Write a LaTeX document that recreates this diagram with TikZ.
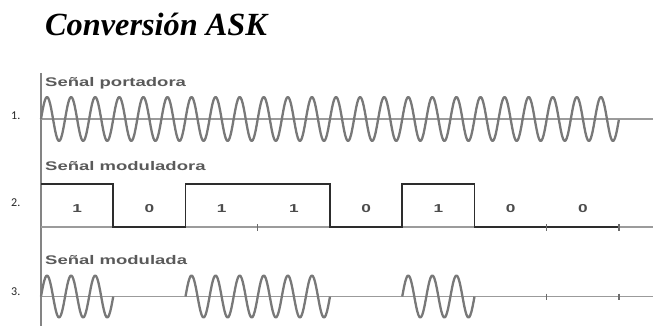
\documentclass[tikz,border=0pt]{standalone}
\usepackage{fontspec}
\usepackage{graphicx}
\setmainfont{Liberation Serif}
\newfontfamily\lblfont{Liberation Sans}
\newfontfamily\numfont{Carlito}
\definecolor{wavegray}{RGB}{120,120,120}
\definecolor{axisgray}{RGB}{155,155,155}
\definecolor{labelgray}{RGB}{90,90,90}
\definecolor{sigdark}{RGB}{45,45,45}
\begin{document}
\begin{tikzpicture}[x=1pt,y=-1pt,
  wave/.style={draw=wavegray,line width=2.3pt,line join=round},
  axisline/.style={draw=axisgray,line width=1.1pt},
  ticksty/.style={draw=axisgray!70!black,line width=1.1pt},
  sigline/.style={draw=sigdark,line width=1.8pt,line join=miter},
  siglabel/.style={anchor=base west,inner sep=0pt,text=labelgray,font=\lblfont\bfseries\fontsize{12.5}{14}\selectfont},
  bitlabel/.style={anchor=center,inner sep=0pt,text=sigdark!85,font=\lblfont\bfseries\fontsize{11.5}{13}\selectfont},
  rownum/.style={anchor=west,inner sep=0pt,text=black!85,font=\numfont\fontsize{12}{14}\selectfont}]
\useasboundingbox[fill=white] (0,0) rectangle (653,326);

% title
\node[anchor=base west,inner sep=0pt,font=\bfseries\itshape\fontsize{32.3}{38}\selectfont] (title) at (45,35.5) {Conversión ASK};

% vertical axis
\draw[axisline,draw=axisgray!85!black] (41,73) -- (41,326);

% horizontal axes
\draw[axisline] (41,119) -- (653,119);
\draw[axisline] (41,227) -- (653,227);
\draw[axisline] (41,296.5) -- (653,296.5);

% row labels
\node[siglabel] (lab1) at (45,87) {\scalebox{1.48}[1]{Señal portadora}};
\node[siglabel] (lab2) at (45,170.5) {\scalebox{1.48}[1]{Señal moduladora}};
\node[siglabel] (lab3) at (45,264) {\scalebox{1.48}[1]{Señal modulada}};

\node[rownum] (n1) at (11,116) {1.};
\node[rownum] (n2) at (11,202.5) {2.};
\node[rownum] (n3) at (11,292) {3.};

% carrier (variable = cycles)
\draw[wave] plot[domain=0:24,samples=577,smooth] ({41+24.0833*\x},{119-22*sin(360*\x)});

% modulating signal
\draw[sigline] (41,184) -- (113.25,184) -- (113.25,227) -- (185.5,227) -- (185.5,184)
  -- (330,184) -- (330,227) -- (402.25,227) -- (402.25,184) -- (474.5,184)
  -- (474.5,227) -- (619,227);
\foreach \t in {257.75,546.75,619}
  \draw[ticksty] (\t,224) -- (\t,231);

% bit labels
\foreach \c/\b [count=\i] in {77.1/1,149.4/0,221.6/1,293.9/1,366.1/0,438.4/1,510.6/0,582.9/0}
  \node[bitlabel] (bit\i) at (\c,208.5) {\scalebox{1.5}[1]{\b}};

% modulated signal
\draw[wave] plot[domain=0:3,samples=73,smooth] ({41+24.0833*\x},{296.5-21*sin(360*\x)});
\draw[wave] plot[domain=6:12,samples=145,smooth] ({41+24.0833*\x},{296.5-21*sin(360*\x)});
\draw[wave] plot[domain=15:18,samples=73,smooth] ({41+24.0833*\x},{296.5-21*sin(360*\x)});
\foreach \t in {546.75,619}
  \draw[ticksty] (\t,293.5) -- (\t,299.5);
\end{tikzpicture}
\end{document}
